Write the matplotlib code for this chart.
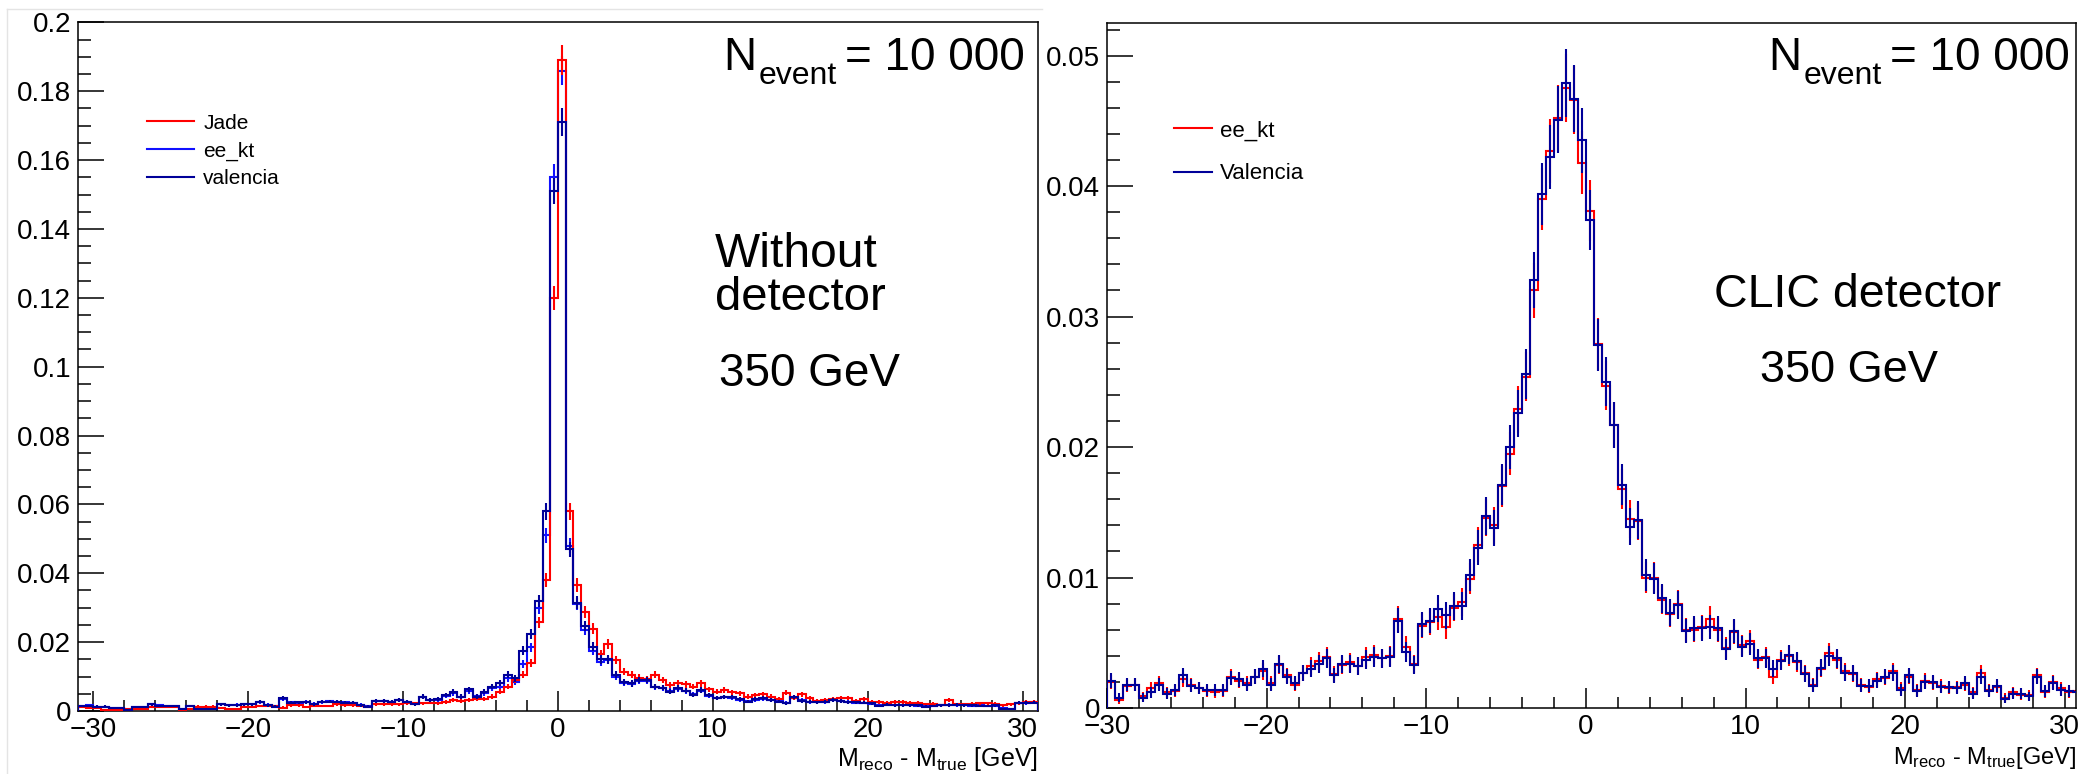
import numpy as np
import matplotlib
matplotlib.use("Agg")
import matplotlib.pyplot as plt
from matplotlib.ticker import MultipleLocator, FuncFormatter
from matplotlib.lines import Line2D

plt.rcParams['font.family'] = ['Liberation Sans', 'DejaVu Sans']
plt.rcParams['mathtext.fontset'] = 'custom'
plt.rcParams['mathtext.rm'] = 'Liberation Sans'
plt.rcParams['mathtext.it'] = 'Liberation Sans:italic'
plt.rcParams['mathtext.bf'] = 'Liberation Sans:bold'

# ---------------- data ----------------
bin_width = 0.5
left_range = (-31.0, 31.0)
right_range = (-30.0, 31.0)
left_norm_events = 10000
right_norm_events = 7000

left_labels = ["Jade", "ee_kt", "valencia"]
right_labels = ["ee_kt", "Valencia"]

jade_left = [
    0.0011, 0.0008, 0.0008, 0.0003, 0.0003, 0.0003, 0.0005, 0.0006, 0.0006, 0.0013,
    0.0011, 0.0011, 0.0011, 0.0003, 0.0005, 0.0013, 0.0013, 0.0013, 0.0008, 0.0005,
    0.0005, 0.0011, 0.0011, 0.0015, 0.0015, 0.0015, 0.0010, 0.0016, 0.0016, 0.0011,
    0.0015, 0.0015, 0.0015, 0.0020, 0.0017, 0.0017, 0.0015, 0.0013, 0.0020, 0.0020,
    0.0020, 0.0020,
    0.0022, 0.0022, 0.0022, 0.0024, 0.0022, 0.0026, 0.0032, 0.0030, 0.0032, 0.0034,
    0.0034, 0.0042, 0.0056, 0.0071, 0.0090, 0.0105, 0.0140, 0.0258, 0.0380, 0.1200,
    0.1890, 0.0580, 0.0366, 0.0287, 0.0239, 0.0165, 0.0195, 0.0148, 0.0114, 0.0105,
    0.0097, 0.0092, 0.0105, 0.0090, 0.0075, 0.0082, 0.0077, 0.0071, 0.0080, 0.0063,
    0.0056, 0.0061, 0.0054, 0.0051, 0.0042, 0.0046, 0.0049, 0.0042, 0.0034, 0.0053,
    0.0037, 0.0049, 0.0037, 0.0029, 0.0032, 0.0034, 0.0037, 0.0037, 0.0030, 0.0034,
    0.0026, 0.0026, 0.0024, 0.0026, 0.0026, 0.0024, 0.0024, 0.0020, 0.0021, 0.0017,
    0.0032, 0.0020, 0.0020, 0.0021, 0.0022, 0.0022, 0.0021, 0.0017, 0.0019, 0.0022,
    0.0027, 0.0027]

eekt_left = [
    0.0014, 0.0016, 0.0013, 0.0012, 0.0009, 0.0008, 0.0004, 0.0011, 0.0012, 0.0019,
    0.0016, 0.0015, 0.0014, 0.0006, 0.0014, 0.0008, 0.0007, 0.0008, 0.0019, 0.0017,
    0.0018, 0.0020, 0.0019, 0.0026, 0.0018, 0.0014, 0.0035, 0.0025, 0.0024, 0.0026,
    0.0021, 0.0026, 0.0028, 0.0026, 0.0025, 0.0023, 0.0018, 0.0014, 0.0028, 0.0030,
    0.0026, 0.0031,
    0.0026, 0.0021, 0.0040, 0.0031, 0.0033, 0.0044, 0.0052, 0.0042, 0.0058, 0.0044,
    0.0052, 0.0066, 0.0071, 0.0095, 0.0085, 0.0136, 0.0185, 0.0298, 0.0510, 0.1550,
    0.1860, 0.0480, 0.0310, 0.0235, 0.0175, 0.0143, 0.0148, 0.0100, 0.0082, 0.0078,
    0.0088, 0.0088, 0.0070, 0.0066, 0.0058, 0.0064, 0.0058, 0.0048, 0.0059, 0.0045,
    0.0038, 0.0041, 0.0039, 0.0033, 0.0028, 0.0033, 0.0036, 0.0031, 0.0028, 0.0023,
    0.0038, 0.0031, 0.0026, 0.0025, 0.0026, 0.0031, 0.0029, 0.0026, 0.0024, 0.0024,
    0.0021, 0.0016, 0.0018, 0.0016, 0.0017, 0.0016, 0.0015, 0.0014, 0.0015, 0.0016,
    0.0018, 0.0017, 0.0016, 0.0015, 0.0016, 0.0015, 0.0015, 0.0008, 0.0007, 0.0022,
    0.0023, 0.0025]

valencia_left = [
    0.0015, 0.0015, 0.0013, 0.0013, 0.0008, 0.0008, 0.0003, 0.0011, 0.0011, 0.0020,
    0.0015, 0.0015, 0.0015, 0.0005, 0.0015, 0.0007, 0.0007, 0.0007, 0.0020, 0.0017,
    0.0017, 0.0020, 0.0020, 0.0027, 0.0017, 0.0013, 0.0037, 0.0024, 0.0025, 0.0025,
    0.0020, 0.0027, 0.0027, 0.0027, 0.0024, 0.0024, 0.0017, 0.0013, 0.0029, 0.0029,
    0.0027, 0.0032,
    0.0027, 0.0020, 0.0042, 0.0032, 0.0034, 0.0046, 0.0056, 0.0042, 0.0063, 0.0042,
    0.0056, 0.0071, 0.0082, 0.0105, 0.0095, 0.0175, 0.0223, 0.0320, 0.0580, 0.1510,
    0.1710, 0.0470, 0.0315, 0.0247, 0.0187, 0.0150, 0.0150, 0.0105, 0.0085, 0.0080,
    0.0090, 0.0090, 0.0071, 0.0068, 0.0056, 0.0066, 0.0059, 0.0046, 0.0061, 0.0046,
    0.0037, 0.0040, 0.0040, 0.0034, 0.0027, 0.0034, 0.0037, 0.0032, 0.0027, 0.0022,
    0.0040, 0.0030, 0.0027, 0.0025, 0.0027, 0.0032, 0.0030, 0.0025, 0.0025, 0.0024,
    0.0022, 0.0015, 0.0018, 0.0017, 0.0016, 0.0016, 0.0016, 0.0013, 0.0015, 0.0017,
    0.0017, 0.0018, 0.0016, 0.0016, 0.0015, 0.0015, 0.0016, 0.0006, 0.0006, 0.0024,
    0.0024, 0.0024]

eekt_right = [
    0.0020, 0.0006, 0.0017, 0.0018, 0.0009, 0.0015, 0.0019, 0.0012, 0.0013, 0.0022,
    0.0018, 0.0015, 0.0013, 0.0012, 0.0013, 0.0024, 0.0021, 0.0019, 0.0024, 0.0028,
    0.0019, 0.0033, 0.0025, 0.0018, 0.0027, 0.0032, 0.0036, 0.0039, 0.0026, 0.0033,
    0.0035, 0.0032, 0.0039, 0.0041, 0.0038, 0.0040, 0.0068, 0.0047, 0.0034, 0.0063,
    0.0066, 0.0070, 0.0062, 0.0077, 0.0081, 0.0099, 0.0125, 0.0146, 0.0140, 0.0170,
    0.0195, 0.0229, 0.0254, 0.0320, 0.0390, 0.0427, 0.0452, 0.0475, 0.0466, 0.0418,
    0.0381, 0.0279, 0.0247, 0.0217, 0.0168, 0.0145, 0.0143, 0.0100, 0.0100, 0.0083,
    0.0072, 0.0080, 0.0060, 0.0060, 0.0062, 0.0068, 0.0060, 0.0046, 0.0058, 0.0048,
    0.0051, 0.0037, 0.0039, 0.0024, 0.0037, 0.0040, 0.0035, 0.0027, 0.0018, 0.0030,
    0.0042, 0.0037, 0.0028, 0.0026, 0.0018, 0.0016, 0.0022, 0.0023, 0.0028, 0.0015,
    0.0024, 0.0014, 0.0021, 0.0019, 0.0017, 0.0015, 0.0016, 0.0018, 0.0012, 0.0027,
    0.0014, 0.0016, 0.0008, 0.0012, 0.0010, 0.0010, 0.0025, 0.0012, 0.0020, 0.0015,
    0.0012, 0.0013]

valencia_right = [
    0.0021, 0.0008, 0.0018, 0.0018, 0.0008, 0.0012, 0.0018, 0.0011, 0.0014, 0.0025,
    0.0017, 0.0015, 0.0014, 0.0014, 0.0014, 0.0023, 0.0022, 0.0018, 0.0024, 0.0030,
    0.0018, 0.0034, 0.0024, 0.0019, 0.0027, 0.0030, 0.0034, 0.0038, 0.0025, 0.0034,
    0.0034, 0.0032, 0.0037, 0.0039, 0.0038, 0.0039, 0.0067, 0.0043, 0.0033, 0.0064,
    0.0067, 0.0076, 0.0071, 0.0078, 0.0078, 0.0102, 0.0123, 0.0147, 0.0138, 0.0171,
    0.0200, 0.0226, 0.0256, 0.0328, 0.0394, 0.0422, 0.0451, 0.0479, 0.0467, 0.0435,
    0.0374, 0.0278, 0.0250, 0.0217, 0.0171, 0.0139, 0.0144, 0.0102, 0.0099, 0.0084,
    0.0073, 0.0079, 0.0059, 0.0061, 0.0061, 0.0062, 0.0061, 0.0045, 0.0059, 0.0047,
    0.0049, 0.0038, 0.0038, 0.0030, 0.0036, 0.0041, 0.0036, 0.0026, 0.0017, 0.0031,
    0.0040, 0.0038, 0.0027, 0.0027, 0.0017, 0.0017, 0.0021, 0.0024, 0.0027, 0.0014,
    0.0025, 0.0013, 0.0020, 0.0020, 0.0016, 0.0016, 0.0015, 0.0019, 0.0011, 0.0024,
    0.0013, 0.0017, 0.0007, 0.0011, 0.0011, 0.0009, 0.0024, 0.0013, 0.0019, 0.0014,
    0.0013, 0.0012]

# ---------------- style ----------------
RED = "#ff0000"
BLUE = "#1010ff"
NAVY = "#000099"
LW = 1.5
TICK_FS = 20

fig = plt.figure(figsize=(20.89, 7.74), dpi=100)
fig.patch.set_facecolor("white")

axL = fig.add_axes([78 / 2089, 1 - 711 / 774, 960 / 2089, 689 / 774])
axR = fig.add_axes([1107 / 2089, 1 - 708 / 774, 969 / 2089, 685 / 774])

# faint canvas frame of the left pad
fig.add_artist(Line2D([7 / 2089, 7 / 2089], [0, 1 - 9 / 774], transform=fig.transFigure,
                      color="#e4e4e4", lw=1))
fig.add_artist(Line2D([7 / 2089, 1042 / 2089], [1 - 9 / 774, 1 - 9 / 774],
                      transform=fig.transFigure, color="#e4e4e4", lw=1))


def draw_hist(ax, values, lo, hi, color, nevt, z):
    vals = np.asarray(values, dtype=float)
    edges = np.linspace(lo, hi, len(vals) + 1)
    centers = 0.5 * (edges[:-1] + edges[1:])
    err = np.sqrt(vals / nevt)
    ax.stairs(vals, edges, color=color, lw=LW, baseline=0, zorder=z)
    ax.errorbar(centers, vals, yerr=err, fmt="none", ecolor=color,
                elinewidth=LW, capsize=0, zorder=z)


def tick_fmt(v, _):
    s = f"{v:g}"
    return s.replace("-", "\u2212")


def style_axes(ax, xlim, ylim, ymajor, yminor):
    ax.set_xlim(*xlim)
    ax.set_ylim(*ylim)
    ax.xaxis.set_major_locator(MultipleLocator(10))
    ax.xaxis.set_minor_locator(MultipleLocator(2))
    ax.yaxis.set_major_locator(MultipleLocator(ymajor))
    ax.yaxis.set_minor_locator(MultipleLocator(yminor))
    ax.xaxis.set_major_formatter(FuncFormatter(tick_fmt))
    ax.yaxis.set_major_formatter(FuncFormatter(tick_fmt))
    ax.tick_params(axis="both", which="both", direction="in", top=False, right=False,
                   width=1.1, colors="black", labelsize=TICK_FS)
    ax.tick_params(axis="y", which="major", length=19, pad=5)
    ax.tick_params(axis="y", which="minor", length=9.5)
    ax.tick_params(axis="x", which="major", length=14.5, pad=4.5)
    ax.tick_params(axis="x", which="minor", length=8)
    for sp in ax.spines.values():
        sp.set_linewidth(1.1)
        sp.set_color("black")


def nevent_label(ax, x_right, y0):
    t3 = ax.text(x_right, y0, "= 10 000", transform=ax.transAxes, ha="right",
                 va="baseline", fontsize=33)
    t2 = ax.annotate("event", xy=(0, 0), xycoords=t3, xytext=(-6, -3),
                     textcoords="offset points", ha="right", va="baseline", fontsize=23)
    ax.annotate("N", xy=(0, 0), xycoords=(t2, t3), xytext=(-1.5, 0),
                textcoords="offset points", ha="right", va="bottom", fontsize=33)


# ---------------- left panel ----------------
draw_hist(axL, eekt_left, *left_range, BLUE, left_norm_events, 2)
draw_hist(axL, jade_left, *left_range, RED, left_norm_events, 3)
draw_hist(axL, valencia_left, *left_range, NAVY, left_norm_events, 4)
style_axes(axL, (-31, 31), (0, 0.2001), 0.02, 0.005)
axL.set_xlabel(r"M$_{\rm reco}$ - M$_{\rm true}$ [GeV]", fontsize=18)
axL.xaxis.label.set_ha("right")
axL.xaxis.label.set_va("baseline")
axL.xaxis.set_label_coords(1.0, -0.0798)

handlesL = [Line2D([], [], color=c, lw=LW) for c in (RED, BLUE, NAVY)]
axL.legend(handlesL, left_labels, loc="upper left", bbox_to_anchor=(0.072, 0.867),
           frameon=False, fontsize=15, borderpad=0, borderaxespad=0,
           handlelength=2.26, handletextpad=0.43, labelspacing=0.42)

nevent_label(axL, 0.9865, 0.930)
axL.text(0.6635, 0.645, "Without", transform=axL.transAxes, ha="left",
         va="baseline", fontsize=34.5)
axL.text(0.6635, 0.582, "detector", transform=axL.transAxes, ha="left",
         va="baseline", fontsize=34)
axL.text(0.668, 0.4717, "350 GeV", transform=axL.transAxes, ha="left",
         va="baseline", fontsize=33)

# ---------------- right panel ----------------
draw_hist(axR, eekt_right, *right_range, RED, right_norm_events, 2)
draw_hist(axR, valencia_right, *right_range, NAVY, right_norm_events, 3)
style_axes(axR, (-30, 30.7), (0, 0.0525), 0.01, 0.002)
axR.set_xlabel(r"M$_{\rm reco}$ - M$_{\rm true}$[GeV]", fontsize=17)
axR.xaxis.label.set_ha("right")
axR.xaxis.label.set_va("baseline")
axR.xaxis.set_label_coords(1.0, -0.0818)

handlesR = [Line2D([], [], color=c, lw=LW) for c in (RED, NAVY)]
axR.legend(handlesR, right_labels, loc="upper left", bbox_to_anchor=(0.069, 0.858),
           frameon=False, fontsize=16, borderpad=0, borderaxespad=0,
           handlelength=1.71, handletextpad=0.36, labelspacing=1.0)

nevent_label(axR, 0.9938, 0.9314)
axR.text(0.6264, 0.5854, "CLIC detector", transform=axR.transAxes, ha="left",
         va="baseline", fontsize=33.5)
axR.text(0.6739, 0.4752, "350 GeV", transform=axR.transAxes, ha="left",
         va="baseline", fontsize=32.5)

fig.savefig("out.png", dpi=100, facecolor="white")
